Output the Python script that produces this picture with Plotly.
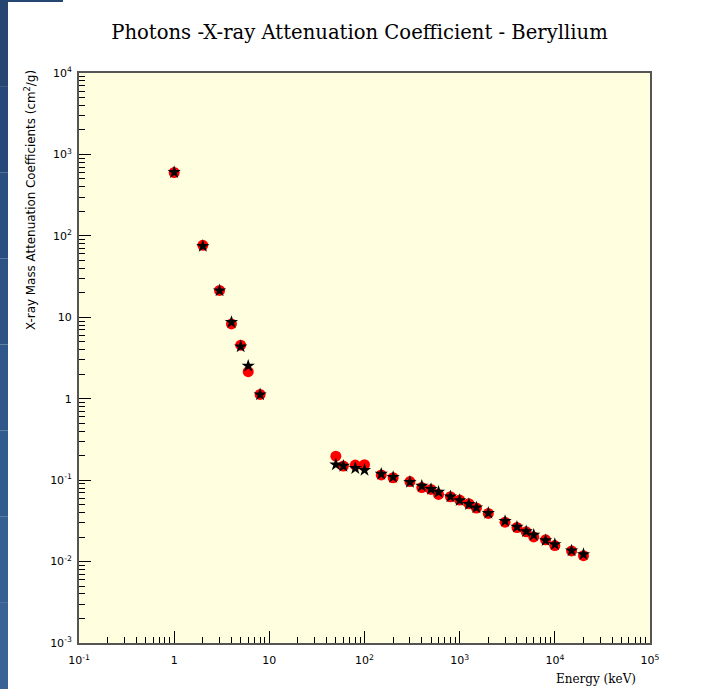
import plotly.graph_objects as go

# Energies (keV)
energy = [1, 2, 3, 4, 5, 6, 8,
          50, 60, 80, 100, 150, 200, 300, 400, 500, 600, 800,
          1000, 1250, 1500, 2000, 3000, 4000, 5000, 6000, 8000,
          10000, 15000, 20000]

# Reference values (black stars), cm2/g
mu_ref = [604.1, 74.69, 21.27, 8.685, 4.369, 2.527, 1.124,
          0.1554, 0.1493, 0.1401, 0.1328, 0.1190, 0.1089, 0.09463, 0.08471, 0.07739, 0.07155, 0.06286,
          0.05652, 0.05054, 0.04597, 0.03938, 0.03138, 0.02664, 0.02347, 0.02121, 0.01819,
          0.01627, 0.01361, 0.01227]

# Measured/simulated values (red circles), cm2/g
mu_sim = [600.0, 76.5, 21.4, 8.3, 4.55, 2.15, 1.13,
          0.197, 0.149, 0.153, 0.155, 0.116, 0.107, 0.096, 0.081, 0.077, 0.0667, 0.0625,
          0.0569, 0.0514, 0.0455, 0.039, 0.0305, 0.0262, 0.0232, 0.0201, 0.0185,
          0.0157, 0.0135, 0.0118]

x_tickvals = [0.1, 1, 10, 100, 1000, 10000, 100000]
x_ticktext = ["10<sup>-1</sup>", "1", "10", "10<sup>2</sup>", "10<sup>3</sup>", "10<sup>4</sup>", "10<sup>5</sup>"]
y_tickvals = [0.001, 0.01, 0.1, 1, 10, 100, 1000, 10000]
y_ticktext = ["10<sup>-3</sup>", "10<sup>-2</sup>", "10<sup>-1</sup>", "1", "10", "10<sup>2</sup>", "10<sup>3</sup>", "10<sup>4</sup>"]

x_minor = [m * 10 ** e for e in range(-1, 5) for m in range(2, 10)]
y_minor = [m * 10 ** e for e in range(-3, 4) for m in range(2, 10)]

fig = go.Figure()
fig.add_trace(go.Scatter(x=energy, y=mu_sim, mode="markers",
                         marker=dict(symbol="circle", size=11, color="#ff0000", line=dict(width=0)),
                         showlegend=False))
fig.add_trace(go.Scatter(x=energy, y=mu_ref, mode="markers",
                         marker=dict(symbol="star", size=10, color="#000000", line=dict(width=0)),
                         showlegend=False))

L, T, W, H = 79, 73, 571, 570
WID, HEI = 719, 689

def px(xp):
    return (xp - L) / W

def py(yp):
    return (T + H - yp) / H

shapes = []
# left blue strip (gradient bands)
cols = ["#244671", "#27497a", "#2a4e7f", "#2d5384", "#305789", "#335c8e", "#365f92", "#396396"]
n = len(cols)
for i, c in enumerate(cols):
    shapes.append(dict(type="rect", xref="paper", yref="paper",
                       x0=px(0), x1=px(8), y0=py(HEI * (i + 1) / n), y1=py(HEI * i / n),
                       fillcolor=c, line=dict(width=0), layer="below"))
shapes.append(dict(type="rect", xref="paper", yref="paper",
                   x0=px(0), x1=px(63), y0=py(2), y1=py(0),
                   fillcolor="#244671", line=dict(width=0), layer="below"))

axis_common = dict(type="log", showgrid=False, zeroline=False, showline=True, mirror=True,
                   linecolor="#555555", linewidth=2, ticks="inside", ticklen=12, tickwidth=1,
                   tickcolor="#000000", tickmode="array",
                   tickfont=dict(family="DejaVu Sans", size=11, color="#000000"))

fig.update_layout(
    width=WID, height=HEI,
    margin=dict(l=L, r=WID - L - W, t=T, b=HEI - T - H),
    paper_bgcolor="#ffffff", plot_bgcolor="#ffffe0",
    title=dict(text="Photons -X-ray Attenuation Coefficient - Beryllium",
               x=px(364.5), xanchor="center", y=1 - 32 / HEI, yanchor="middle",
               font=dict(family="DejaVu Serif", size=19.6, color="#000000")),
    xaxis=dict(axis_common, range=[-1, 5], tickvals=x_tickvals, ticktext=x_ticktext,
               ticklabelstandoff=6,
               minor=dict(tickmode="array", tickvals=x_minor, ticks="inside", ticklen=6,
                          tickcolor="#000000", tickwidth=1, showgrid=False)),
    yaxis=dict(axis_common, range=[-3, 4], tickvals=y_tickvals, ticktext=y_ticktext,
               ticklabelstandoff=3,
               minor=dict(tickmode="array", tickvals=y_minor, ticks="inside", ticklen=6,
                          tickcolor="#000000", tickwidth=1, showgrid=False)),
    shapes=shapes,
    annotations=[
        dict(text="Energy (keV)", xref="paper", yref="paper", x=px(638), y=py(679),
             xanchor="right", yanchor="middle", showarrow=False,
             font=dict(family="DejaVu Serif", size=12, color="#000000")),
        dict(text="X-ray Mass Attenuation Coefficients (cm<sup>2</sup>/g)", xref="paper", yref="paper",
             x=px(30), y=py(200), xanchor="center", yanchor="middle", textangle=-90, showarrow=False,
             font=dict(family="DejaVu Sans", size=11.9, color="#000000")),
    ],
)

fig.write_html("out.html", config={"displayModeBar": False},
               post_script="document.body.style.margin='0px';")
